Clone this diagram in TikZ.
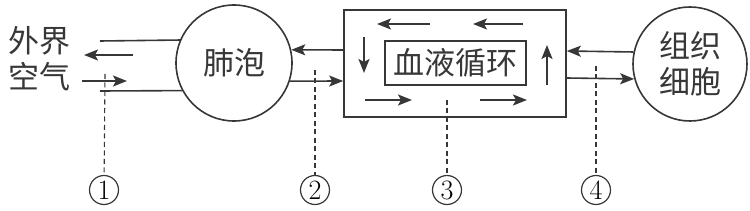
\documentclass[tikz,border=0pt]{standalone}
\usepackage{fontspec}
\newfontfamily\cjk{Noto Sans CJK SC}
\usetikzlibrary{arrows.meta}
\definecolor{colLine}{RGB}{55,55,55}
\tikzset{
  line/.style = {draw=colLine, line width=1.6pt},
  arr/.style  = {line, -{Stealth[length=14pt, width=11pt, inset=3pt]}},
  lead/.style = {draw=colLine, line width=1.1pt, dash pattern=on 5pt off 3.5pt},
  ball/.style = {line, circle, inner sep=0pt},
  num/.style  = {draw=colLine, line width=1.2pt, circle, minimum size=29pt,
                 inner sep=0pt, font=\fontsize{28pt}{28pt}\selectfont},
  word/.style = {text=colLine, font=\cjk\fontsize{31pt}{36pt}\selectfont, align=center},
}
\begin{document}
\begin{tikzpicture}[x=1pt, y=-1pt]
\useasboundingbox (0,0) rectangle (750,211);

%% -- nodes --
\node[word] (air) at (40,59) {外界\\空气};
\node[ball, minimum size=116pt] (alv) at (234,63) {};
\node[word] at (alv.center) {肺泡};
\node[line, minimum width=222pt, minimum height=107pt] (blood) at (455,63.5) {};
\node[line, minimum width=141pt, minimum height=44pt, word] (core) at (455.5,63) {血液循环};
\node[ball, minimum size=114pt, word] (cell) at (690,64) {组织\\细胞};

%% -- free ends --
\coordinate (ain)  at (82,81);
\coordinate (aout) at (84,55);

%% -- airway --
\draw[line] (alv.157.7) -- (100,41);
\draw[line] (alv.208.9) -- (100,91);
\draw[arr] (133,55) -- (aout);
\draw[arr] (ain) -- (127,81);

%% -- alveoli <-> blood --
\draw[arr] (blood.west |- 0,50) -- (alv.13);
\draw[arr] (alv.-18) -- (blood.west |- 0,81);

%% -- blood <-> tissue --
\draw[arr] (cell.168) -- (blood.east |- 0,51);
\draw[arr] (blood.east |- 0,78) -- (cell.195);

%% -- circulation inside the box --
\draw[arr] (430,24) -- (377,24);
\draw[arr] (523,24) -- (473,24);
\draw[arr] (365,100) -- (412,100);
\draw[arr] (480,100) -- (527,100);
\draw[arr] (364,37) -- (364,73);
\draw[arr] (547,85) -- (547,45);

%% -- labels --
\node[num] (n1) at (104,190) {1};
\node[num] (n2) at (315,190) {2};
\node[num] (n3) at (447,190) {3};
\node[num] (n4) at (596,190) {4};
\draw[lead] (105,74) -- (n1);
\draw[lead] (315,70) -- (n2);
\draw[lead] (447,100) -- (n3);
\draw[lead] (596,66) -- (n4);

\end{tikzpicture}
\end{document}
